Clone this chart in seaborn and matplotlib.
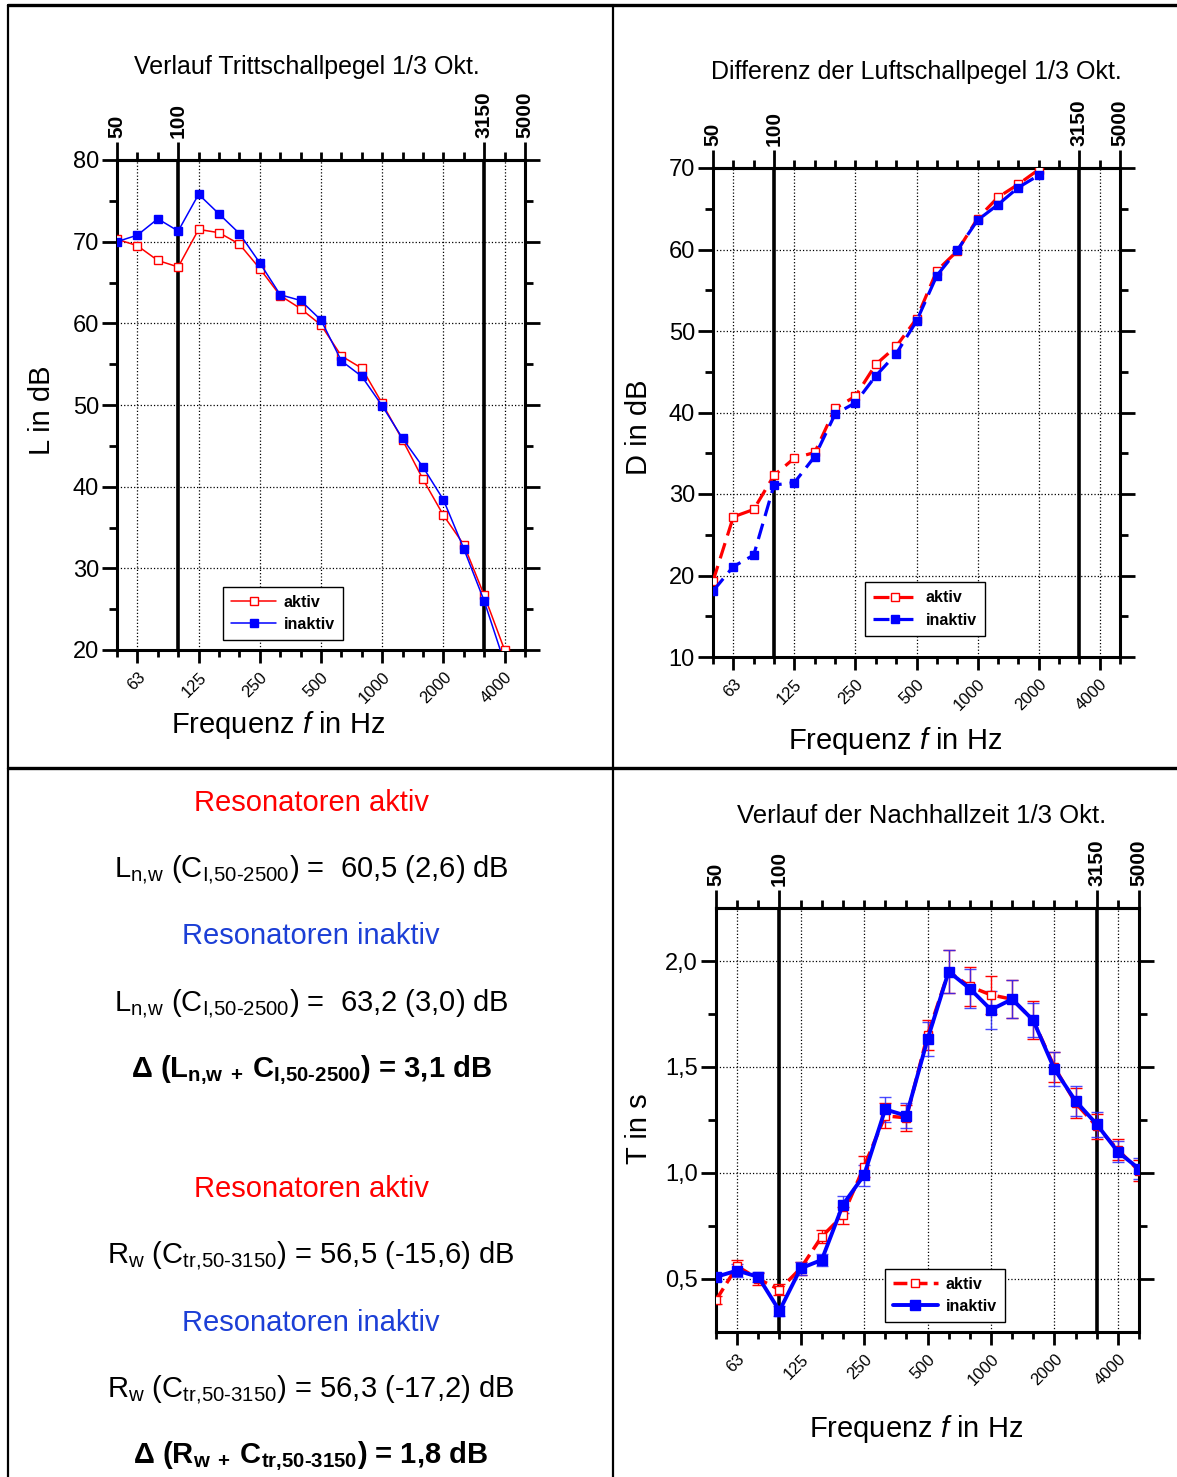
import matplotlib
matplotlib.use('Agg')

import numpy as np
import matplotlib.pyplot as plt
from matplotlib.lines import Line2D
import seaborn as sns

# third-octave bands, plotted at equal spacing (index positions)
bands = [50, 63, 80, 100, 125, 160, 200, 250, 315, 400, 500, 630, 800,
         1000, 1250, 1600, 2000, 2500, 3150, 4000, 5000]
pos = np.arange(len(bands))
bottom_ticks = [63, 125, 250, 500, 1000, 2000, 4000]
top_ticks = [50, 100, 3150, 5000]

nan = np.nan

# Trittschallpegel L in dB
L_aktiv = [70.3, 69.5, 67.7, 66.9, 71.5, 71.1, 69.7, 66.7, 63.4, 61.8, 59.8,
           56.0, 54.5, 50.2, 45.7, 40.9, 36.5, 32.9, 26.7, 20.0, nan]
L_inaktiv = [70.0, 70.8, 72.8, 71.3, 75.8, 73.4, 71.0, 67.4, 63.5, 62.8, 60.4,
             55.4, 53.5, 49.9, 45.9, 42.4, 38.4, 32.4, 26.0, 18.4, nan]

# Differenz der Luftschallpegel D in dB
D_aktiv = [19.3, 27.2, 28.1, 32.3, 34.4, 35.1, 40.5, 42.0, 45.9, 48.1, 51.5,
           57.4, 59.8, 63.8, 66.4, 68.0, 69.8, nan, nan, nan, nan]
D_inaktiv = [18.1, 21.1, 22.5, 31.1, 31.4, 34.6, 39.8, 41.2, 44.5, 47.2, 51.2,
             56.8, 59.9, 63.6, 65.5, 67.6, 69.1, nan, nan, nan, nan]

# Nachhallzeit T in s
T_aktiv = [0.40, 0.56, 0.50, 0.45, 0.55, 0.70, 0.80, 1.03, 1.27, 1.26, 1.65,
           1.95, 1.88, 1.84, 1.82, 1.72, 1.50, 1.33, 1.22, 1.11, 1.01]
T_aktiv_err = [0.02, 0.03, 0.03, 0.025, 0.03, 0.03, 0.04, 0.05, 0.06, 0.06, 0.07,
               0.10, 0.09, 0.09, 0.09, 0.09, 0.07, 0.07, 0.06, 0.05, 0.05]
T_inaktiv = [0.51, 0.54, 0.51, 0.35, 0.55, 0.59, 0.85, 0.99, 1.30, 1.27, 1.63,
             1.95, 1.87, 1.77, 1.82, 1.72, 1.49, 1.34, 1.23, 1.10, 1.02]
T_inaktiv_err = [0.02, 0.03, 0.025, 0.025, 0.03, 0.03, 0.04, 0.05, 0.06, 0.06, 0.08,
                 0.10, 0.09, 0.09, 0.09, 0.08, 0.08, 0.07, 0.06, 0.05, 0.05]

RED = '#ff0000'
BLUE = '#0000ff'

sns.set_theme(style='ticks')
plt.rcParams['font.family'] = ['Liberation Sans', 'DejaVu Sans']
plt.rcParams['mathtext.fontset'] = 'custom'
plt.rcParams['mathtext.rm'] = 'Liberation Sans'
plt.rcParams['mathtext.it'] = 'Liberation Sans:italic'
plt.rcParams['mathtext.bf'] = 'Liberation Sans:bold'
plt.rcParams['text.color'] = 'black'
plt.rcParams['axes.labelcolor'] = 'black'
plt.rcParams['xtick.color'] = 'black'
plt.rcParams['ytick.color'] = 'black'

W, H = 1177, 1477
fig = plt.figure(figsize=(W / 100, H / 100), dpi=100)


def box(l, t, r, b):
    return [l / W, 1 - b / H, (r - l) / W, (b - t) / H]


def style_axes(ax, ylim, ymajor, yminor, yfmt):
    ax.set_xlim(0, len(bands) - 1)
    ax.set_ylim(*ylim)
    ax.set_xticks([bands.index(b) for b in bottom_ticks])
    ax.set_xticklabels([str(b) for b in bottom_ticks], rotation=45, fontsize=12,
                       ha='right', va='top', rotation_mode='anchor')
    ax.set_xticks(pos, minor=True)
    ax.set_yticks(ymajor)
    ax.set_yticklabels([yfmt(v) for v in ymajor], fontsize=17)
    ax.set_yticks(yminor, minor=True)
    ax.tick_params(axis='x', which='major', length=9, width=2, direction='out', pad=5)
    ax.tick_params(axis='x', which='minor', length=5, width=2, direction='out')
    ax.tick_params(axis='y', which='major', length=11, width=2, direction='out',
                   right=True, pad=2)
    ax.tick_params(axis='y', which='minor', length=6, width=2, direction='out',
                   right=True)
    for s in ax.spines.values():
        s.set_linewidth(2.2)
        s.set_color('black')
        s.set_visible(True)
    ax.grid(True, which='major', linestyle=':', color='black', linewidth=0.9)
    ax.grid(False, which='minor')
    for b in (100, 3150):
        ax.axvline(bands.index(b), color='black', lw=2.6, zorder=1)

    sec = ax.secondary_xaxis('top')
    sec.set_xticks([bands.index(b) for b in top_ticks])
    sec.set_xticklabels([str(b) for b in top_ticks], rotation=90, fontsize=15,
                        fontweight='bold')
    sec.set_xticks(pos, minor=True)
    sec.tick_params(which='major', length=13, width=2, direction='out', pad=3)
    sec.tick_params(which='minor', length=6, width=2, direction='out')
    sec.spines['top'].set_linewidth(2.2)
    return ax


def add_legend(ax, x, y):
    leg = ax.legend(loc='center', bbox_to_anchor=(x, y), frameon=True,
                    fancybox=False, framealpha=1, edgecolor='black',
                    handlelength=2.8, borderpad=0.5, labelspacing=0.45,
                    handletextpad=0.5, prop={'weight': 'bold', 'size': 11.5})
    leg.get_frame().set_linewidth(1.0)
    return leg


freq_label = 'Frequenz $\\mathit{f}$ in Hz'

# --- Trittschallpegel ---
ax1 = fig.add_axes(box(117, 160, 525, 650))
sns.lineplot(x=pos, y=L_aktiv, ax=ax1, color=RED, lw=1.1, marker='s', markersize=6,
             markerfacecolor='white', markeredgecolor=RED, markeredgewidth=1,
             errorbar=None, label='aktiv', zorder=3)
sns.lineplot(x=pos, y=L_inaktiv, ax=ax1, color=BLUE, lw=1.1, marker='s', markersize=6,
             markerfacecolor=BLUE, markeredgecolor=BLUE, markeredgewidth=1,
             errorbar=None, label='inaktiv', zorder=4)
style_axes(ax1, (20, 80), range(20, 81, 10), range(25, 80, 10), lambda v: f'{v}')
ax1.set_ylabel('L in dB', fontsize=21)
ax1.yaxis.set_label_coords(-0.15, 0.49)
ax1.set_xlabel(freq_label, fontsize=21)
ax1.xaxis.set_label_coords(0.395, -0.12)
add_legend(ax1, 0.407, 0.075)

# --- Luftschall-Differenz ---
ax2 = fig.add_axes(box(713, 168, 1120, 657))
sns.lineplot(x=pos, y=D_aktiv, ax=ax2, color=RED, lw=2.3, linestyle=(0, (5, 2.5)),
             marker='s', markersize=6, markerfacecolor='white', markeredgecolor=RED,
             markeredgewidth=1, errorbar=None, label='aktiv', zorder=3)
sns.lineplot(x=pos, y=D_inaktiv, ax=ax2, color=BLUE, lw=2.3, linestyle=(0, (5, 2.5)),
             marker='s', markersize=6, markerfacecolor=BLUE, markeredgecolor=BLUE,
             markeredgewidth=1, errorbar=None, label='inaktiv', zorder=4)
style_axes(ax2, (10, 70), range(10, 71, 10), range(15, 70, 10), lambda v: f'{v}')
ax2.set_ylabel('D in dB', fontsize=21)
ax2.yaxis.set_label_coords(-0.148, 0.47)
ax2.set_xlabel(freq_label, fontsize=21)
ax2.xaxis.set_label_coords(0.447, -0.14)
add_legend(ax2, 0.521, 0.098)

# --- Nachhallzeit ---
ax3 = fig.add_axes(box(716, 908, 1139, 1332))
ax3.errorbar(pos, T_aktiv, yerr=T_aktiv_err, fmt='none', ecolor=RED, elinewidth=1,
             capsize=4, capthick=1, zorder=2)
ax3.errorbar(pos, T_inaktiv, yerr=T_inaktiv_err, fmt='none', ecolor='#2a2aff',
             elinewidth=1, capsize=4, capthick=1, alpha=0.85, zorder=2)
sns.lineplot(x=pos, y=T_aktiv, ax=ax3, color=RED, lw=2.5, linestyle=(0, (4, 1.8)),
             marker='s', markersize=6, markerfacecolor='white', markeredgecolor=RED,
             markeredgewidth=1, errorbar=None, label='aktiv', zorder=3)
sns.lineplot(x=pos, y=T_inaktiv, ax=ax3, color=BLUE, lw=2.8, marker='s', markersize=6.5,
             markerfacecolor=BLUE, markeredgecolor=BLUE, markeredgewidth=1,
             errorbar=None, label='inaktiv', zorder=4)
style_axes(ax3, (0.25, 2.25), [0.5, 1.0, 1.5, 2.0], [0.75, 1.25, 1.75],
           lambda v: f'{v:.1f}'.replace('.', ','))
ax3.set_ylabel('T in s', fontsize=21)
ax3.yaxis.set_label_coords(-0.148, 0.48)
ax3.set_xlabel(freq_label, fontsize=21)
ax3.xaxis.set_label_coords(0.473, -0.19)
add_legend(ax3, 0.541, 0.087)

# titles
fig.text(307 / W, 1 - 67 / H, 'Verlauf Trittschallpegel 1/3 Okt.', ha='center',
         va='center', fontsize=18)
fig.text(916 / W, 1 - 72 / H, 'Differenz der Luftschallpegel 1/3 Okt.', ha='center',
         va='center', fontsize=18)
fig.text(922 / W, 1 - 816 / H, 'Verlauf der Nachhallzeit 1/3 Okt.', ha='center',
         va='center', fontsize=18.5)

# Einzahlwerte (subscripts via mathregular, '{,}' and U+2010 keep them unspaced)
sub_L = 'L$_\\mathregular{n{,}w}$ (C$_\\mathregular{I{,}50\u20102500}$)'
sub_R = 'R$_\\mathregular{w}$ (C$_\\mathregular{tr{,}50\u20103150}$)'
panel_lines = [
    (803, 'Resonatoren aktiv', RED, 'normal'),
    (870, sub_L + ' =  60,5 (2,6) dB', 'black', 'normal'),
    (936, 'Resonatoren inaktiv', '#1c3fd6', 'normal'),
    (1003, sub_L + ' =  63,2 (3,0) dB', 'black', 'normal'),
    (1070, 'Δ (L$_\\mathregular{n{,}w\\ +\\ }$C$_\\mathregular{I{,}50\u20102500}$) = 3,1 dB',
     'black', 'bold'),
    (1189, 'Resonatoren aktiv', RED, 'normal'),
    (1256, sub_R + ' = 56,5 (-15,6) dB', 'black', 'normal'),
    (1323, 'Resonatoren inaktiv', '#1c3fd6', 'normal'),
    (1389, sub_R + ' = 56,3 (-17,2) dB', 'black', 'normal'),
    (1456, 'Δ (R$_\\mathregular{w\\ +\\ }$C$_\\mathregular{tr{,}50\u20103150}$) = 1,8 dB',
     'black', 'bold'),
]
for y, txt, col, wt in panel_lines:
    fig.text(311 / W, 1 - y / H, txt, ha='center', va='center', fontsize=21,
             color=col, fontweight=wt)

# table borders
x_left, x_mid, y_top, y_mid = 8 / W, 613 / W, 1 - 5 / H, 1 - 768 / H
fig.add_artist(Line2D([x_left, 1], [y_top, y_top], color='black', lw=2.4))
fig.add_artist(Line2D([x_left, 1], [y_mid, y_mid], color='black', lw=2.4))
fig.add_artist(Line2D([x_left, x_left], [0, y_top], color='black', lw=1.6))
fig.add_artist(Line2D([x_mid, x_mid], [0, y_top], color='black', lw=1.6))

fig.savefig('out.png', dpi=100, facecolor='white')
plt.close(fig)
